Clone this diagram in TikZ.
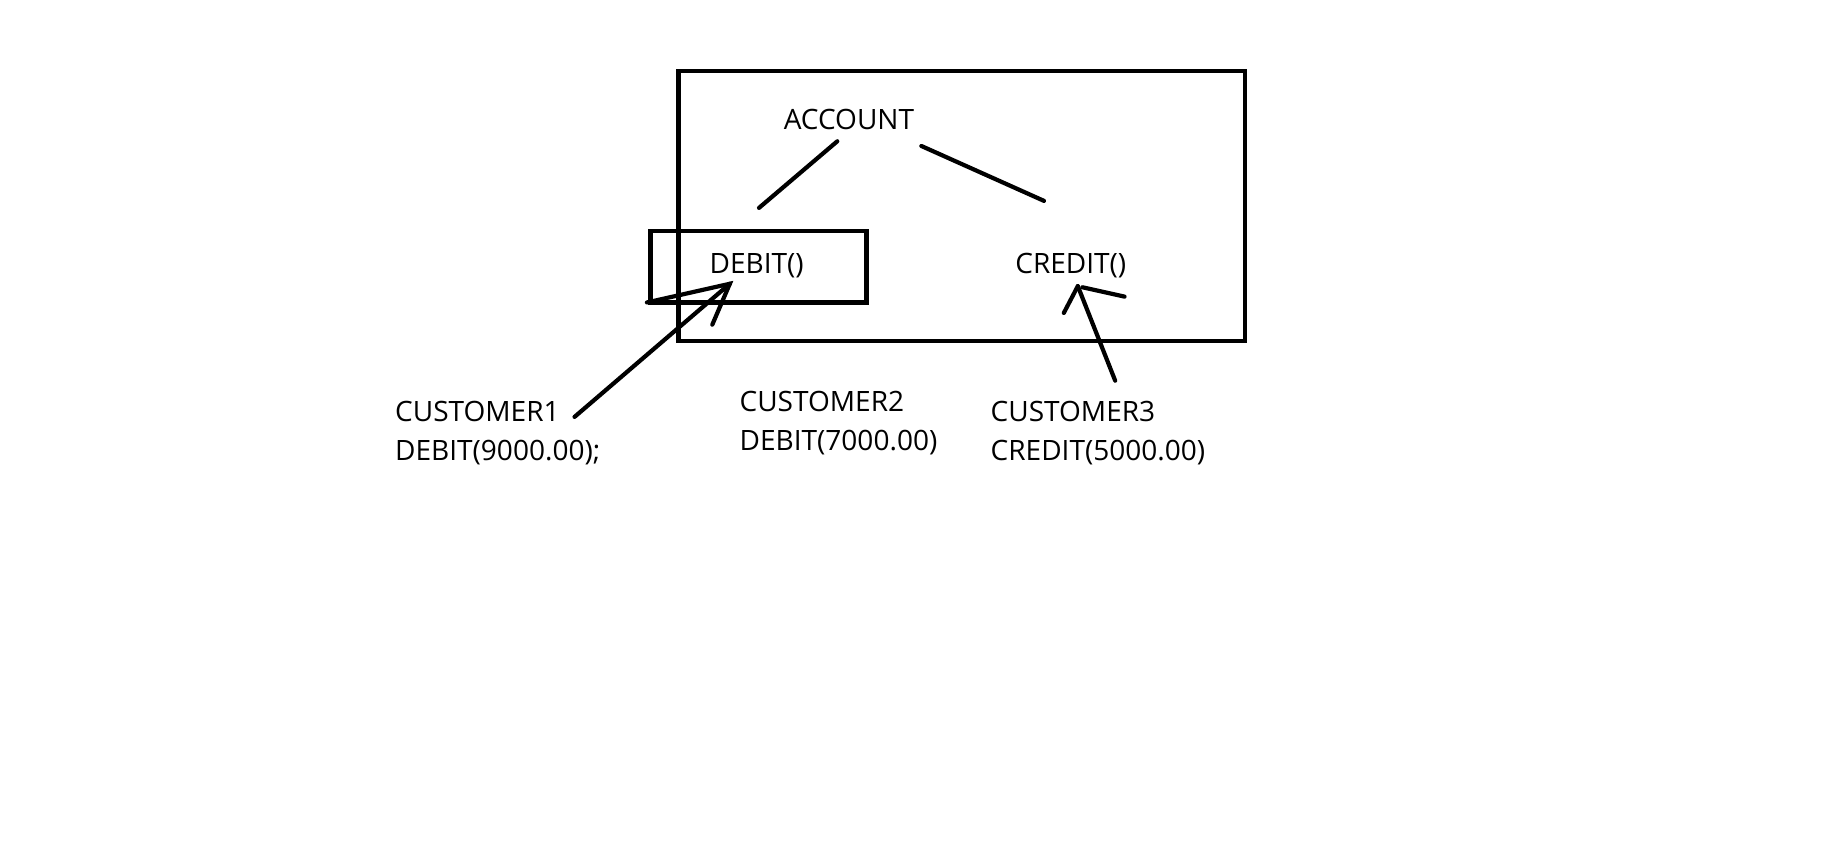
\documentclass[tikz,border=0pt]{standalone}
\usepackage{fontspec}
\setmainfont{Open Sans}
\begin{document}
\begin{tikzpicture}[x=0.5pt,y=-0.5pt,
  txt/.style={inner sep=0pt, font=\fontsize{12}{16.5}\selectfont, text=black},
  ln/.style={line width=1.8pt, line cap=round},
  frame/.style={draw, line width=1.8pt, inner sep=0pt}]
\useasboundingbox (0,0) rectangle (1568,724);
% outer class box
\node[frame, minimum width=242.5pt, minimum height=115.5pt] (account box) at (823.5,176.5) {};
\node[frame, minimum width=92.5pt, minimum height=30.5pt] (debit box) at (649.5,228.5) {};
% texts
\node[txt] (account) at (727,102) {ACCOUNT};
\node[txt] (debit) at (648,227.5) {DEBIT()};
\node[txt] (credit) at (917,227.5) {CREDIT()};
\node[txt, anchor=west, align=left] (c1) at (338,371) {CUSTOMER1\\DEBIT(9000.00);};
\node[txt, anchor=west, align=left] (c2) at (633,362.5) {CUSTOMER2\\DEBIT(7000.00)};
\node[txt, anchor=west, align=left] (c3) at (848,371) {CUSTOMER3\\CREDIT(5000.00)};
% connector coordinates
\coordinate (a1) at (717,121);
\coordinate (d1) at (650,178);
\coordinate (a2) at (789,125);
\coordinate (cr1) at (894,172);
\coordinate (c1s) at (492,357);
\coordinate (dtip) at (625,243);
\coordinate (dh1) at (554,259);
\coordinate (dh2) at (610,278);
\coordinate (c3s) at (955,326);
\coordinate (ctip) at (923,245);
\coordinate (ch1) at (911,268);
\coordinate (ch2) at (963,254);
\coordinate (ch2s) at (927,246);
% lines
\draw[ln] (a1) -- (d1);
\draw[ln] (a2) -- (cr1);
\draw[ln] (c1s) -- (dtip);
\draw[ln] (dh1) -- (dtip) -- (dh2);
\draw[ln] (c3s) -- (ctip);
\draw[ln] (ch1) -- (ctip);
\draw[ln] (ch2s) -- (ch2);
\end{tikzpicture}
\end{document}
